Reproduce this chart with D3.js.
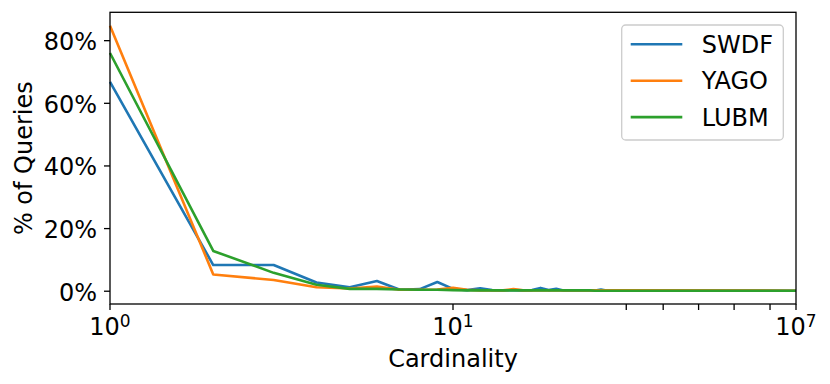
<!doctype html>
<html>
<head>
<meta charset="utf-8">
<style>
  body { margin: 0; background: white; }
  svg text { font-family: "DejaVu Sans", sans-serif; fill: black; }
</style>
<script src="https://d3js.org/d3.v7.min.js"></script>
</head>
<body>
<script>
// data (percent of queries per cardinality)
var cardinality = [1, 2, 3, 4, 5, 6, 7, 8, 9, 10, 11, 12, 13, 14, 15, 16, 17, 18, 19, 20,
                   21, 22, 23, 24, 25, 26, 27, 28, 29, 30, 100];
var swdf = [66.7, 8.2, 8.2, 2.6, 1.1, 3.1, 0.3, 0.5, 2.8, 0.6, 0.2, 0.8, 0.2, 0.1, 0.2, 0.1, 0.2, 0.9, 0.2, 0.6,
            0.1, 0.1, 0.1, 0.1, 0.1, 0.1, 0.4, 0.1, 0.1, 0.1, 0.0];
var yago = [84.6, 5.2, 3.4, 1.1, 0.7, 1.3, 0.3, 0.3, 0.4, 0.9, 0.3, 0.1, 0.1, 0.1, 0.5, 0.1, 0.1, 0.1, 0.1, 0.1,
            0.1, 0.1, 0.1, 0.1, 0.1, 0.1, 0.1, 0.1, 0.1, 0.1, 0.0];
var lubm = [75.9, 12.7, 5.7, 1.9, 0.6, 0.6, 0.4, 0.3, 0.3, 0.2, 0.1, 0.1, 0.1, 0.1, 0.1, 0.1, 0.1, 0.1, 0.1, 0.1,
            0.1, 0.1, 0.1, 0.1, 0.1, 0.0, 0.0, 0.0, 0.0, 0.0, 0.0];
var seriesNames = ['SWDF', 'YAGO', 'LUBM'];
var seriesColors = ['#1f77b4', '#ff7f0e', '#2ca02c'];

// axis ticks
var yTicks = [0, 20, 40, 60, 80];
var xMajorTicks = [1, 10, 100];
var xMajorLabels = [['10', '0'], ['10', '1'], ['10', '7']];
var xMinorTicks = [32, 41, 52, 66, 84];

var W = 830, H = 384;
var margin = { top: 12.3, right: 34, bottom: 80, left: 110 };
var width = W - margin.left - margin.right;
var height = H - margin.top - margin.bottom;

var svg = d3.select('body').append('svg')
  .attr('width', W)
  .attr('height', H);

var g = svg.append('g')
  .attr('transform', `translate(${margin.left},${margin.top})`);

var x = d3.scaleLog().domain([1, 100]).range([0, width]);
var y = d3.scaleLinear().domain([-4.24, 88.9]).range([height, 0]);

// lines
var line = d3.line()
  .x(d => x(d[0]))
  .y(d => y(d[1]));

var allSeries = [swdf, yago, lubm];
allSeries.forEach(function(vals, i) {
  g.append('path')
    .datum(cardinality.map((c, j) => [c, vals[j]]))
    .attr('fill', 'none')
    .attr('stroke', seriesColors[i])
    .attr('stroke-width', 2.6)
    .attr('stroke-linejoin', 'round')
    .attr('d', line);
});

// frame
g.append('rect')
  .attr('width', width)
  .attr('height', height)
  .attr('fill', 'none')
  .attr('stroke', 'black')
  .attr('stroke-width', 1.3);

// y axis
var yAxis = g.append('g')
  .call(d3.axisLeft(y).tickValues(yTicks).tickSize(6).tickPadding(7).tickFormat(d => d + '%'));
yAxis.select('.domain').remove();
yAxis.selectAll('line').attr('stroke-width', 1.3);
yAxis.selectAll('text')
  .attr('font-size', 24)
  .attr('dy', null)
  .attr('y', 9.5)
  .style('font-family', '"DejaVu Sans", sans-serif');

// x axis
var xAxis = g.append('g')
  .attr('transform', `translate(0,${height})`);

xAxis.selectAll('.major')
  .data(xMajorTicks.concat(xMinorTicks))
  .enter().append('line')
  .attr('x1', d => x(d)).attr('x2', d => x(d))
  .attr('y1', 0).attr('y2', 6)
  .attr('stroke', 'black')
  .attr('stroke-width', 1.3);

var xt = xAxis.selectAll('.xlab')
  .data(xMajorTicks)
  .enter().append('text')
  .attr('class', 'xlab')
  .attr('x', d => x(d))
  .attr('y', 31)
  .attr('text-anchor', 'middle')
  .attr('font-size', 24);
xt.append('tspan').text((d, i) => xMajorLabels[i][0]);
xt.append('tspan')
  .attr('font-size', 17)
  .attr('dy', -8)
  .text((d, i) => xMajorLabels[i][1]);

// axis labels
svg.append('text')
  .text('Cardinality')
  .attr('x', margin.left + width / 2)
  .attr('y', 367)
  .attr('text-anchor', 'middle')
  .attr('font-size', 24);

svg.append('text')
  .text('% of Queries')
  .attr('transform', `translate(32,${margin.top + height / 2}) rotate(-90)`)
  .attr('text-anchor', 'middle')
  .attr('font-size', 24);

// legend
var legend = svg.append('g').attr('transform', 'translate(621.7,25)');
legend.append('rect')
  .attr('width', 161.6)
  .attr('height', 115)
  .attr('rx', 4)
  .attr('fill', 'white')
  .attr('fill-opacity', 0.8)
  .attr('stroke', '#cccccc')
  .attr('stroke-width', 1.3);

var item = legend.selectAll('.item')
  .data(seriesNames)
  .enter().append('g')
  .attr('class', 'item')
  .attr('transform', (d, i) => `translate(0,${19.3 + i * 36.4})`);
item.append('line')
  .attr('x1', 9).attr('x2', 60.6)
  .attr('stroke', (d, i) => seriesColors[i])
  .attr('stroke-width', 2.6);
item.append('text')
  .text(d => d)
  .attr('x', 80)
  .attr('y', 8.7)
  .attr('font-size', 24);
</script>
</body>
</html>
